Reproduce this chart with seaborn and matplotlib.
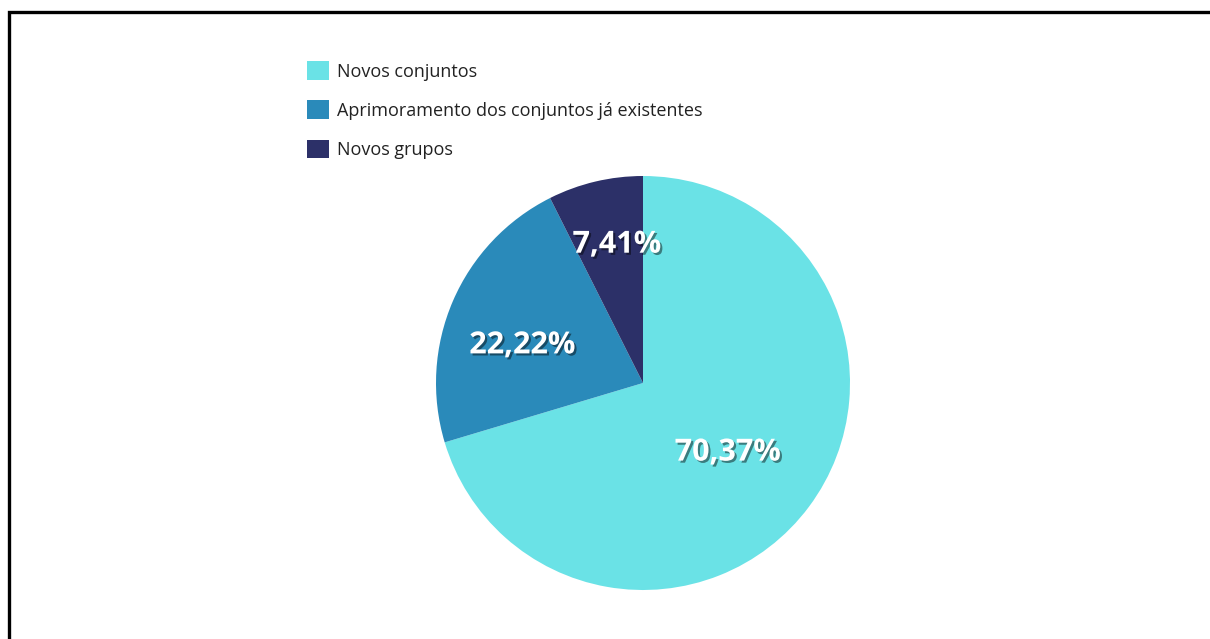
import numpy as np
import matplotlib
matplotlib.use("Agg")
import matplotlib.pyplot as plt
import matplotlib.patheffects as pe
from matplotlib.patches import Rectangle
import seaborn as sns

# data
categorias = ["Novos conjuntos", "Aprimoramento dos conjuntos já existentes", "Novos grupos"]
percentuais = [70.37, 22.22, 7.41]
rotulos = ["70,37%", "22,22%", "7,41%"]
cores = ["#6ae2e6", "#2a8aba", "#2c3068"]
# label placement: radial distance and angle nudge (degrees)
dist_rotulo = [0.53, 0.61, 0.68]
desvio_ang = [-2.7, 6.0, -2.6]

sns.set_theme(style="white")
plt.rcParams['font.family'] = ['Open Sans', 'DejaVu Sans']

W, H = 1210, 639
fig = plt.figure(figsize=(W / 100, H / 100), dpi=100)
fig.patch.set_facecolor("white")

# pie axes positioned in pixels
cx, cy, r = 643, 383, 207
ax = fig.add_axes([(cx - r) / W, (H - cy - r) / H, 2 * r / W, 2 * r / H])
wedges, _ = ax.pie(percentuais, colors=cores, startangle=90, counterclock=False,
                   wedgeprops=dict(linewidth=0))
ax.set_xlim(-1, 1)
ax.set_ylim(-1, 1)
ax.set_aspect("equal")
ax.axis("off")

for w, txt, d, da in zip(wedges, rotulos, dist_rotulo, desvio_ang):
    ang = np.deg2rad((w.theta1 + w.theta2) / 2 + da)
    ax.text(d * np.cos(ang), d * np.sin(ang), txt, ha="center", va="center",
            color="white", fontsize=22, fontweight="bold",
            path_effects=[pe.SimplePatchShadow(offset=(1.5, -1.5), shadow_rgbFace="black", alpha=0.45),
                          pe.Normal()])

fig.legend(wedges, categorias, loc="upper left", bbox_to_anchor=(300 / W, 1 - 54 / H),
           frameon=False, fontsize=13, handlelength=1.2, handleheight=1.2,
           labelspacing=1.1, handletextpad=0.45, borderaxespad=0, labelcolor="#222222")

# frame (cropped on right and bottom)
fig.patches.append(Rectangle((9 / W, -0.1), 1.2, 1.1 - 12 / H, transform=fig.transFigure,
                             fill=False, edgecolor="black", linewidth=2.4))

fig.savefig("out.png", dpi=100)
